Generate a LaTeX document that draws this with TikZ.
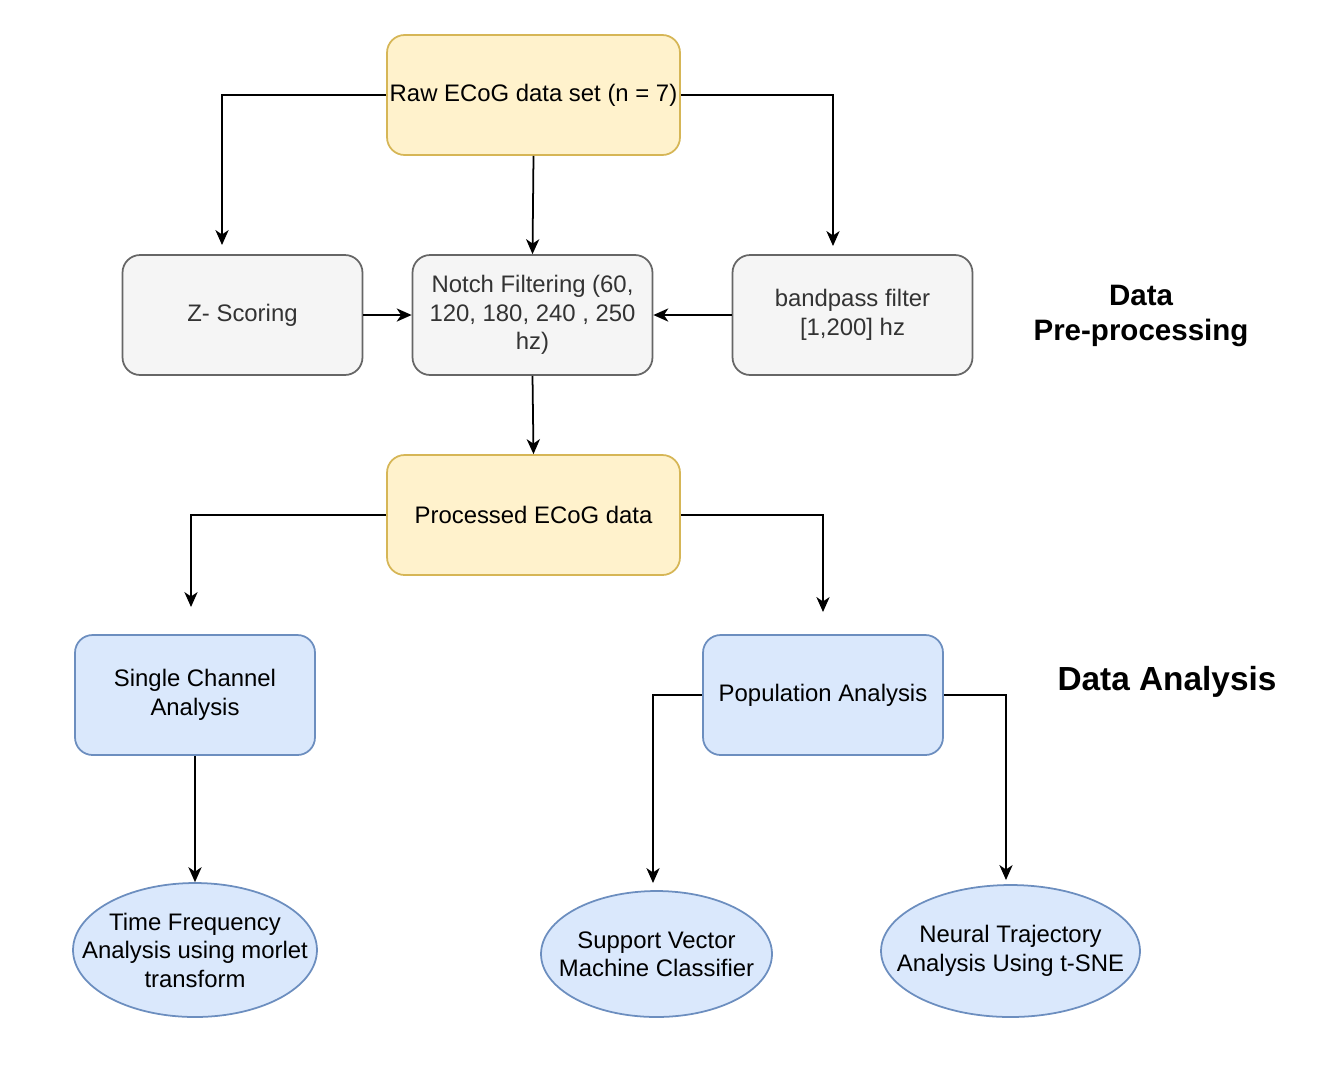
\documentclass[tikz,border=0pt]{standalone}
\usepackage{fontspec}
\setmainfont{Liberation Sans}
\usepackage{xcolor}
\usetikzlibrary{arrows.meta,positioning,shapes.geometric}
\definecolor{yelfill}{HTML}{FFF2CC}
\definecolor{yeldraw}{HTML}{D6B656}
\definecolor{grayfill}{HTML}{F5F5F5}
\definecolor{graydraw}{HTML}{666666}
\definecolor{graytext}{HTML}{333333}
\definecolor{bluefill}{HTML}{DAE8FC}
\definecolor{bluedraw}{HTML}{6C8EBF}
\newcommand{\boxfont}{\fontsize{13.6pt}{16.2pt}\selectfont}

\begin{document}
\begin{tikzpicture}[x=0.02cm, y=-0.02cm,
  >={Stealth[length=8.5pt,width=7.5pt,inset=2.5pt]},
  flow/.style={->, line width=1pt},
  databox/.style={draw=yeldraw, fill=yelfill, line width=1pt, rounded corners=10pt, inner xsep=1pt,
    minimum width=5.86cm, minimum height=2.4cm, align=center, font=\boxfont},
  prebox/.style={draw=graydraw, fill=grayfill, text=graytext, line width=1pt, rounded corners=10pt,
    minimum width=4.8cm, minimum height=2.4cm, align=center, font=\boxfont},
  anabox/.style={draw=bluedraw, fill=bluefill, line width=1pt, rounded corners=10pt,
    minimum width=4.8cm, minimum height=2.4cm, align=center, font=\boxfont},
  oval/.style={ellipse, draw=bluedraw, fill=bluefill, line width=1pt, inner sep=0pt},
  ovaltext/.style={align=center, font=\boxfont},
  heading/.style={align=center, font=\bfseries\fontsize{16.8pt}{20.4pt}\selectfont}]
  \useasboundingbox (0,0) rectangle (1324,1066);

  % pre-processing
  \node[databox] (raw) at (533.5,95) {Raw ECoG data set (n = 7)};
  \node[prebox] (zscore) at (242.5,315) {Z- Scoring};
  \node[prebox] (notch) at (532.5,315) {Notch Filtering (60,\\120, 180, 240 , 250\\hz)};
  \node[prebox] (bandpass) at (852.5,315) {bandpass filter\\{}[1,200] hz};
  \node[heading] (prehead) at (1141,316) {Data\\Pre-processing};

  % analysis
  \node[databox] (proc) at (533.5,515) {Processed ECoG data};
  \node[anabox] (single) at (195,695) {Single Channel\\Analysis};
  \node[anabox] (popul) at (823,695) {Population Analysis};
  \node[heading, font=\bfseries\fontsize{19pt}{22pt}\selectfont] (anahead) at (1167,682) {Data Analysis};
  \node[oval, minimum width=4.88cm, minimum height=2.68cm,
    label={[ovaltext]center:Time Frequency\\Analysis using morlet\\transform}] (tf) at (195,950) {};
  \node[oval, minimum width=4.62cm, minimum height=2.52cm,
    label={[ovaltext]center:Support Vector\\Machine Classifier}] (svm) at (656.5,954) {};
  \node[oval, minimum width=5.18cm, minimum height=2.64cm,
    label={[ovaltext]center:Neural Trajectory\\Analysis Using t-SNE}] (tsne) at (1010.5,951) {};

  % loose arrow ends
  \coordinate (zend) at (222,245);
  \coordinate (bpend) at (833,246);
  \coordinate (singleend) at (191,607);
  \coordinate (populend) at (823,612);
  \coordinate (svmend) at (653,883);
  \coordinate (tsneend) at (1006,880);

  \draw[flow] (raw.west) -| (zend);
  \draw[flow] (raw.south) -- (notch.north);
  \draw[flow] (raw.east) -| (bpend);
  \draw[flow] (zscore.east) -- (notch.west);
  \draw[flow] (bandpass.west) -- (notch.east);
  \draw[flow] (notch.south) -- (proc.north);
  \draw[flow] (proc.west) -| (singleend);
  \draw[flow] (proc.east) -| (populend);
  \draw[flow] (single.south) -- (tf.north);
  \draw[flow] (popul.west) -| (svmend);
  \draw[flow] (popul.east) -| (tsneend);
\end{tikzpicture}
\end{document}
